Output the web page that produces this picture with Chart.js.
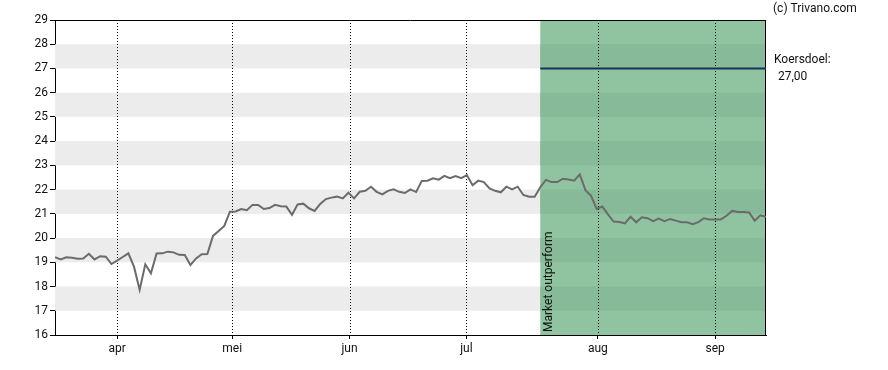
<!DOCTYPE html>
<html>
<head>
<meta charset="utf-8">
<script src="https://cdn.jsdelivr.net/npm/chart.js@4/dist/chart.umd.min.js"></script>
<style>
  html, body { margin: 0; padding: 0; background: #ffffff; }
  #wrap { width: 888px; height: 370px; position: relative; }
</style>
</head>
<body>
<div id="wrap"><canvas id="c" width="888" height="370"></canvas></div>
<script>
// ---- data ----
const monthLabels = ['apr', 'mei', 'jun', 'jul', 'aug', 'sep'];
const monthTickIndex = [11.0, 31.4, 52.2, 72.9, 96.2, 117.0];
const prices = [
  19.21, 19.12, 19.21, 19.19, 19.15, 19.16, 19.35, 19.12, 19.25, 19.23,
  18.93, 19.07, 19.22, 19.37, 18.82, 17.86, 18.92, 18.55, 19.36, 19.37,
  19.44, 19.41, 19.31, 19.30, 18.89, 19.16, 19.33, 19.34, 20.09, 20.29,
  20.50, 21.09, 21.10, 21.20, 21.15, 21.37, 21.37, 21.20, 21.24, 21.37,
  21.31, 21.30, 20.96, 21.39, 21.42, 21.23, 21.12, 21.41, 21.61, 21.67,
  21.71, 21.64, 21.87, 21.64, 21.91, 21.95, 22.12, 21.91, 21.80, 21.95,
  22.01, 21.91, 21.86, 22.01, 21.90, 22.36, 22.37, 22.47, 22.41, 22.57,
  22.47, 22.56, 22.47, 22.60, 22.18, 22.37, 22.31, 22.05, 21.95, 21.89,
  22.12, 22.01, 22.12, 21.78, 21.71, 21.71, 22.10, 22.40, 22.31, 22.31,
  22.45, 22.42, 22.37, 22.63, 21.98, 21.74, 21.20, 21.30, 20.98, 20.68,
  20.66, 20.61, 20.88, 20.65, 20.86, 20.82, 20.70, 20.80, 20.70, 20.79,
  20.72, 20.65, 20.65, 20.57, 20.66, 20.82, 20.77, 20.77, 20.77, 20.92,
  21.12, 21.08, 21.08, 21.06, 20.72, 20.94, 20.88
];
const outperformStart = 86;
const targetPrice = 27.00;
const targetLabel = 'Koersdoel:';
const targetText = '27,00';
const adviceText = 'Market outperform';
const copyrightText = '(c) Trivano.com';
const yMin = 16, yMax = 29;

// ---- build ----
const lastIndex = prices.length - 1;
const priceData = prices.map((v, i) => ({ x: i, y: v }));
const targetData = [{ x: outperformStart, y: targetPrice }, { x: lastIndex, y: targetPrice }];
const FONT = 'Roboto, "Liberation Sans", Arial, sans-serif';

const bgPlugin = {
  id: 'bg',
  beforeDatasetsDraw(chart) {
    const { ctx, chartArea: a, scales: { x, y } } = chart;
    ctx.save();
    // gray bands
    for (let v = yMin + 1; v < yMax; v += 2) {
      const top = y.getPixelForValue(v + 1), bot = y.getPixelForValue(v);
      ctx.fillStyle = '#ececec';
      ctx.fillRect(a.left, top, a.right - a.left, bot - top);
    }
    // green outperform region
    const gx = x.getPixelForValue(outperformStart);
    ctx.fillStyle = '#90c4a1';
    ctx.fillRect(gx, a.top, a.right - gx, a.bottom - a.top);
    for (let v = yMin + 1; v < yMax; v += 2) {
      const top = y.getPixelForValue(v + 1), bot = y.getPixelForValue(v);
      ctx.fillStyle = '#87ba98';
      ctx.fillRect(gx, top, a.right - gx, bot - top);
    }
    // dotted month gridlines
    ctx.strokeStyle = '#000000';
    ctx.lineWidth = 1;
    ctx.setLineDash([1, 2]);
    monthTickIndex.forEach(t => {
      const px = Math.round(x.getPixelForValue(t)) + 0.5;
      ctx.beginPath();
      ctx.moveTo(px, a.top);
      ctx.lineTo(px, a.bottom);
      ctx.stroke();
    });
    ctx.setLineDash([]);
    // frame
    ctx.strokeStyle = '#000000';
    ctx.beginPath();
    ctx.moveTo(a.left, Math.round(a.top) + 0.5);
    ctx.lineTo(a.right, Math.round(a.top) + 0.5);
    ctx.moveTo(Math.round(a.right) - 0.5, a.top);
    ctx.lineTo(Math.round(a.right) - 0.5, a.bottom);
    ctx.stroke();
    // rotated advice text
    ctx.save();
    ctx.translate(gx + 9, a.bottom - 3);
    ctx.rotate(-Math.PI / 2);
    ctx.fillStyle = '#111111';
    ctx.font = '12px ' + FONT;
    ctx.textAlign = 'left';
    ctx.textBaseline = 'middle';
    ctx.fillText(adviceText, 0, 0);
    ctx.restore();
    ctx.restore();
  },
  afterDraw(chart) {
    const { ctx, chartArea: a, scales: { y } } = chart;
    ctx.save();
    ctx.fillStyle = '#111111';
    ctx.font = '12px ' + FONT;
    ctx.textAlign = 'left';
    ctx.textBaseline = 'middle';
    ctx.fillText(copyrightText, a.right + 7, 9);
    const ty = y.getPixelForValue(targetPrice);
    ctx.fillText(targetLabel, a.right + 8, ty - 8);
    ctx.fillText(targetText, a.right + 12, ty + 9);
    ctx.restore();
  }
};

new Chart(document.getElementById('c'), {
  type: 'line',
  data: {
    datasets: [
      {
        data: priceData,
        borderColor: '#6b6b6b',
        borderWidth: 2,
        pointRadius: 0,
        tension: 0,
        fill: false
      },
      {
        data: targetData,
        borderColor: '#163357',
        borderWidth: 2,
        pointRadius: 0,
        tension: 0,
        fill: false
      }
    ]
  },
  options: {
    responsive: false,
    animation: false,
    events: [],
    layout: { padding: { left: 0, right: 122, top: 20, bottom: 0 } },
    plugins: { legend: { display: false }, tooltip: { enabled: false } },
    scales: {
      x: {
        type: 'linear',
        min: 0,
        max: lastIndex,
        afterBuildTicks(scale) {
          scale.ticks = monthTickIndex.map(v => ({ value: v }));
        },
        afterFit(scale) { scale.height = 35; },
        ticks: {
          autoSkip: false,
          maxRotation: 0,
          color: '#111111',
          font: { family: FONT, size: 12 },
          padding: 3,
          callback(value) {
            const i = monthTickIndex.indexOf(value);
            return i >= 0 ? monthLabels[i] : '';
          }
        },
        grid: {
          drawOnChartArea: false,
          drawTicks: true,
          tickLength: 4,
          tickColor: '#000000',
          color: '#000000'
        },
        border: { display: true, color: '#000000', width: 1 }
      },
      y: {
        type: 'linear',
        min: yMin,
        max: yMax,
        afterFit(scale) { scale.width = 55; },
        ticks: {
          stepSize: 1,
          color: '#111111',
          font: { family: FONT, size: 12 },
          padding: 2
        },
        grid: {
          drawOnChartArea: false,
          drawTicks: true,
          tickLength: 5,
          tickColor: '#000000',
          color: '#000000'
        },
        border: { display: true, color: '#000000', width: 1 }
      }
    }
  },
  plugins: [bgPlugin]
});
</script>
</body>
</html>
